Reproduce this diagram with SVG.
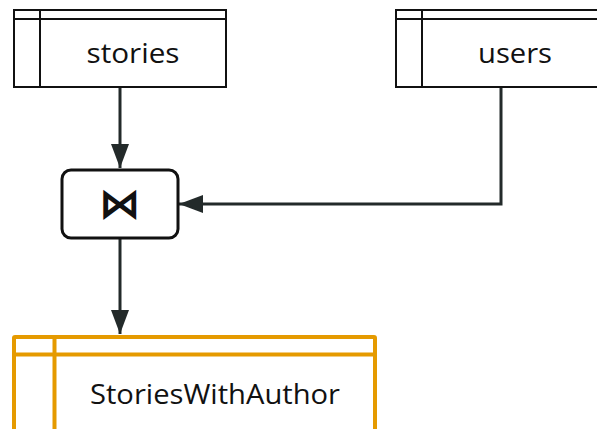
<svg xmlns="http://www.w3.org/2000/svg" width="597" height="429" viewBox="0 0 597 429">
  <style>
    .table { fill: #ffffff; stroke: #111111; stroke-width: 2; }
    .table-line { fill: none; stroke: #111111; stroke-width: 2; }
    .result { fill: #ffffff; stroke: #E59A00; stroke-width: 4; }
    .result-line { fill: none; stroke: #E59A00; stroke-width: 4; }
    .label { font-family: "Open Sans", "Liberation Sans", sans-serif; font-size: 28px; fill: #111111; text-anchor: middle; }
    .op { fill: #ffffff; stroke: #111111; stroke-width: 3; }
    .edge { fill: none; stroke: #232a2a; stroke-width: 3; }
  </style>
  <defs>
    <marker id="arrow" viewBox="0 0 24 18" refX="24" refY="9" markerWidth="24" markerHeight="18" markerUnits="userSpaceOnUse" orient="auto">
      <path d="M0,0 L24,9 L0,18 Z" fill="#232a2a"/>
    </marker>
  </defs>

  <rect width="597" height="429" fill="#ffffff"/>

  <g id="connectors">
    <path class="edge" d="M120,87 L120,168" marker-end="url(#arrow)"/>
    <path class="edge" d="M501,87 L501,204 L179,204" marker-end="url(#arrow)"/>
    <path class="edge" d="M120,239 L120,334" marker-end="url(#arrow)"/>
  </g>

  <g id="stories">
    <rect class="table" x="14" y="10" width="212" height="77"/>
    <path class="table-line" d="M14,19 H226 M40,10 V87"/>
    <text class="label" x="133" y="63" textLength="93" lengthAdjust="spacingAndGlyphs">stories</text>
  </g>

  <g id="users">
    <rect class="table" x="396" y="10" width="212" height="77"/>
    <path class="table-line" d="M396,19 H608 M422,10 V87"/>
    <text class="label" x="515" y="63" textLength="74" lengthAdjust="spacingAndGlyphs">users</text>
  </g>

  <g id="join">
    <rect class="op" x="62" y="170" width="116" height="68" rx="9"/>
    <text x="120" y="218" font-family="DejaVu Sans, sans-serif" font-weight="bold" font-size="42" text-anchor="middle" fill="#111111">⋈</text>
  </g>

  <g id="StoriesWithAuthor">
    <rect class="result" x="14" y="337" width="361" height="96" rx="1"/>
    <path class="result-line" d="M14,354.5 H375 M54.5,337 V433"/>
    <text class="label" x="215" y="404" textLength="250" lengthAdjust="spacingAndGlyphs">StoriesWithAuthor</text>
  </g>
</svg>
